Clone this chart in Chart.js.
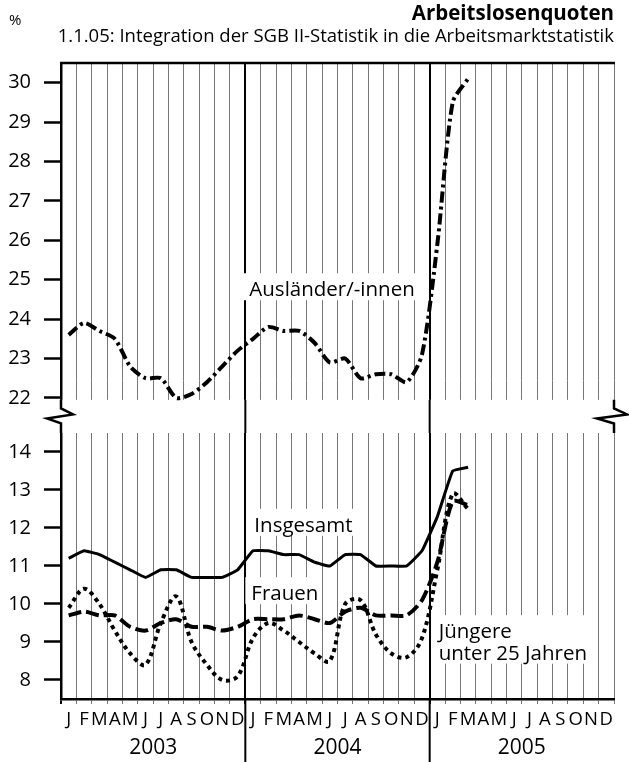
<!DOCTYPE html>
<html>
<head>
<meta charset="utf-8">
<script src="https://cdn.jsdelivr.net/npm/chart.js@4.4.1/dist/chart.umd.min.js"></script>
<style>
  html, body { margin: 0; padding: 0; background: #fff; }
  #wrap { width: 629px; height: 762px; }
</style>
</head>
<body>
<div id="wrap"><canvas id="quotenChart" width="629" height="762"></canvas></div>
<script>
// Jan 2003 .. Mar 2005, monthly values in %
const months = ["J", "F", "M", "A", "M", "J", "J", "A", "S", "O", "N", "D"];
const monthLabels = [...months, ...months, ...months];
const yearLabels = ["2003", "2004", "2005"];
const topTicks = [22, 23, 24, 25, 26, 27, 28, 29, 30];
const bottomTicks = [8, 9, 10, 11, 12, 13, 14];

const auslaender = [23.6, 23.9, 23.7, 23.5, 22.8, 22.5, 22.5, 22.0, 22.1, 22.4, 22.8, 23.2,
  23.5, 23.8, 23.7, 23.7, 23.4, 22.9, 23.0, 22.5, 22.6, 22.6, 22.4, 23.1,
  25.9, 29.5, 30.1];
const insgesamt = [11.2, 11.4, 11.3, 11.1, 10.9, 10.7, 10.9, 10.9, 10.7, 10.7, 10.7, 10.9,
  11.4, 11.4, 11.3, 11.3, 11.1, 11.0, 11.3, 11.3, 11.0, 11.0, 11.0, 11.4,
  12.3, 13.5, 13.6];
const frauen = [9.7, 9.8, 9.7, 9.7, 9.4, 9.3, 9.5, 9.6, 9.4, 9.4, 9.3, 9.4,
  9.6, 9.6, 9.6, 9.7, 9.6, 9.5, 9.8, 9.9, 9.7, 9.7, 9.7, 10.1,
  11.1, 12.7, 12.6];
const juengere = [9.9, 10.4, 10.0, 9.3, 8.7, 8.4, 9.5, 10.2, 9.0, 8.4, 8.0, 8.1,
  9.1, 9.5, 9.3, 9.0, 8.7, 8.5, 10.0, 10.1, 9.2, 8.7, 8.6, 9.1,
  10.9, 12.9, 12.5];

const curveLabels = [
  { lines: ["Ausländer/-innen"], axis: "yTop", tick: 12, dx: 4, value: 24.58, padRight: 8 },
  { lines: ["Insgesamt"], axis: "yBot", tick: 12, dx: 9, value: 11.9, padRight: 3 },
  { lines: ["Frauen"], axis: "yBot", tick: 12, dx: 6, value: 10.1, padRight: 3 },
  { lines: ["Jüngere", "unter 25 Jahren"], axis: "yBot", tick: 24, dx: 9, value: 9.1, padRight: 7 },
];

Chart.defaults.font.family = '"Open Sans", sans-serif';
Chart.defaults.color = "#000";

function gridX(scale, i) {
  return (scale.getPixelForTick(i - 1) + scale.getPixelForTick(i)) / 2;
}

function line(ctx, x1, y1, x2, y2) {
  ctx.beginPath();
  ctx.moveTo(x1, y1);
  ctx.lineTo(x2, y2);
  ctx.stroke();
}

const frameAndLabels = {
  id: "frameAndLabels",
  beforeDatasetsDraw(chart) {
    const { ctx, chartArea: a, scales } = chart;
    const gapTop = scales.yTop.getPixelForValue(21.95);
    const gapBottom = scales.yBot.getPixelForValue(14.5);
    const mid = (gapTop + gapBottom) / 2;
    ctx.save();
    ctx.fillStyle = "#fff";
    ctx.fillRect(a.left - 3, gapTop, a.width + 6, gapBottom - gapTop);
    ctx.strokeStyle = "#000";
    ctx.lineWidth = 2;
    [12, 24].forEach((i) => {
      const x = gridX(scales.x, i);
      line(ctx, x, gapTop, x, gapBottom);
    });
    // axis break marks
    ctx.lineWidth = 2.5;
    [[a.left, 12, -14], [a.right, 13, -17]].forEach(([x, out, back]) => {
      ctx.beginPath();
      ctx.moveTo(x, gapTop);
      ctx.lineTo(x, mid - 8);
      ctx.lineTo(x + out, mid - 2);
      ctx.lineTo(x + back, mid + 2);
      ctx.lineTo(x, mid + 7);
      ctx.lineTo(x, gapBottom);
      ctx.stroke();
    });
    line(ctx, a.left - 1, a.top, a.right + 1, a.top);
    ctx.restore();
  },
  afterDatasetsDraw(chart) {
    const { ctx, scales } = chart;
    ctx.save();
    ctx.font = '20.5px "Open Sans"';
    ctx.textBaseline = "alphabetic";
    curveLabels.forEach((lab) => {
      const x = gridX(scales.x, lab.tick) + lab.dx;
      const y = scales[lab.axis].getPixelForValue(lab.value);
      const w = Math.max(...lab.lines.map((t) => ctx.measureText(t).width));
      const h = 21.5 * (lab.lines.length - 1);
      ctx.fillStyle = "#fff";
      ctx.fillRect(x - 6, y - 23, w + 6 + lab.padRight, h + 27);
      ctx.fillStyle = "#000";
      lab.lines.forEach((t, k) => ctx.fillText(t, x, y + k * 21.5));
    });
    ctx.restore();
  },
  afterDraw(chart) {
    const { ctx, chartArea: a, scales } = chart;
    ctx.save();
    ctx.strokeStyle = "#000";
    ctx.lineWidth = 2;
    [12, 24].forEach((i) => {
      const x = gridX(scales.x, i);
      line(ctx, x, a.bottom, x, chart.height);
    });
    ctx.fillStyle = "#000";
    ctx.textAlign = "right";
    ctx.font = 'bold 20.5px "Open Sans"';
    ctx.fillText("Arbeitslosenquoten", a.right, 20);
    ctx.font = '18.5px "Open Sans"';
    ctx.fillText("1.1.05: Integration der SGB II-Statistik in die Arbeitsmarktstatistik", a.right, 42);
    ctx.textAlign = "left";
    ctx.font = '15px "Open Sans"';
    ctx.fillText("%", 9, 25);
    ctx.restore();
  },
};

const yAxisCommon = {
  type: "linear",
  position: "left",
  stack: "quoten",
  grid: { drawOnChartArea: false, tickLength: 17, tickWidth: 2.5, tickColor: "#000" },
  border: { display: true, color: "#000", width: 2.5 },
  ticks: { autoSkip: false, font: { size: 20 }, padding: 13, color: "#000" },
  afterFit: (scale) => { scale.width = 61; },
};

const quotenChart = new Chart(document.getElementById("quotenChart"), {
  type: "line",
  data: {
    labels: monthLabels,
    datasets: [
      {
        label: "Ausländer/-innen",
        data: auslaender,
        yAxisID: "yTop",
        borderColor: "#000",
        borderWidth: 4,
        borderDash: [11, 4, 3, 4],
        pointRadius: 0,
        tension: 0.25,
      },
      {
        label: "Insgesamt",
        data: insgesamt,
        yAxisID: "yBot",
        borderColor: "#000",
        borderWidth: 3,
        pointRadius: 0,
        tension: 0.1,
      },
      {
        label: "Frauen",
        data: frauen,
        yAxisID: "yBot",
        borderColor: "#000",
        borderWidth: 4,
        borderDash: [13, 5],
        pointRadius: 0,
        tension: 0.25,
      },
      {
        label: "Jüngere unter 25 Jahren",
        data: juengere,
        yAxisID: "yBot",
        borderColor: "#000",
        borderWidth: 4,
        borderDash: [4, 4],
        pointRadius: 0,
        tension: 0.35,
      },
    ],
  },
  options: {
    responsive: false,
    animation: false,
    layout: { padding: { top: 63, right: 15, bottom: 0, left: 0 } },
    plugins: { legend: { display: false }, tooltip: { enabled: false } },
    scales: {
      x: {
        type: "category",
        offset: true,
        grid: {
          offset: true,
          color: (c) => (c.index % 12 === 0 ? "#000" : "#777"),
          lineWidth: (c) => (c.index % 12 === 0 ? 2 : 1),
          tickLength: 5,
        },
        border: { display: true, color: "#000", width: 2.5 },
        ticks: { autoSkip: false, maxRotation: 0, minRotation: 0, padding: 5, font: { size: 18.5 } },
        afterFit: (scale) => { scale.height = 31; },
      },
      xYear: {
        type: "linear",
        position: "bottom",
        min: 0,
        max: 36,
        grid: { display: false, drawTicks: false },
        border: { display: false },
        ticks: {
          autoSkip: false,
          maxRotation: 0,
          padding: 5,
          font: { size: 21 },
          callback: (v) => yearLabels[(v - 6) / 12],
        },
        afterBuildTicks: (scale) => { scale.ticks = [6, 18, 30].map((v) => ({ value: v })); },
        afterFit: (scale) => { scale.height = 32; },
      },
      yBot: {
        ...yAxisCommon,
        min: 7.5,
        max: 14.934,
        stackWeight: 282.5,
        afterBuildTicks: (scale) => { scale.ticks = bottomTicks.map((v) => ({ value: v })); },
      },
      yTop: {
        ...yAxisCommon,
        min: 21.528,
        max: 30.5,
        stackWeight: 353.5,
        afterBuildTicks: (scale) => { scale.ticks = topTicks.map((v) => ({ value: v })); },
      },
    },
  },
  plugins: [frameAndLabels],
});
</script>
</body>
</html>
